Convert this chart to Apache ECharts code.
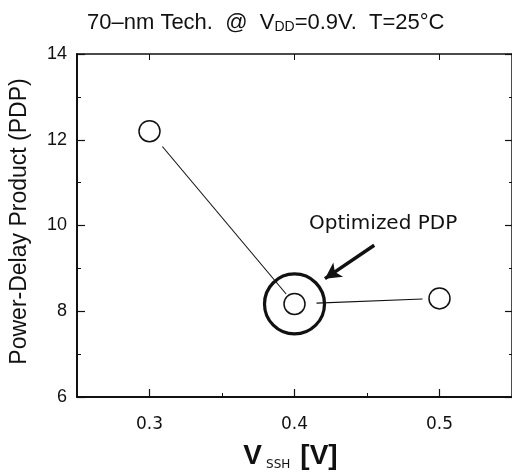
<!DOCTYPE html>
<html>
<head>
<meta charset="utf-8">
<script src="https://cdn.jsdelivr.net/npm/echarts@6/dist/echarts.min.js"></script>
<style>
  html, body { margin: 0; padding: 0; background: #fff; }
  #chart { width: 512px; height: 476px; }
</style>
</head>
<body>
<div id="chart"></div>
<script>
// Supply voltage sweep and measured power-delay product
const vssh = [0.3, 0.4, 0.5];
const pdp = [12.2, 8.17, 8.3];

// Axis ticks
const xMajor = [0.3, 0.4, 0.5];
const xMinor = [0.35, 0.45];
const yMin = 6, yMax = 14, yStep = 2;

// Gap (px) left between each connecting segment and the markers it joins
const segGaps = [[20, 13], [22, 17]];

const segments = vssh.slice(0, -1).map((x, i) => [x, pdp[i], vssh[i + 1], pdp[i + 1]]);

// Lowest PDP gets the highlight ring
const best = pdp.indexOf(Math.min(...pdp));
const bestPoint = [[vssh[best], pdp[best]]];

const chart = echarts.init(document.getElementById('chart'), null, { renderer: 'canvas' });

const tickFont = 'DejaVu Sans';
const black = '#111';

chart.setOption({
  animation: false,
  backgroundColor: '#fff',
  title: {
    text: '70\u2013nm Tech.  @  V{sub|DD}=0.9V.  T=25\u00B0C',
    left: 82,
    top: 7,
    textStyle: {
      fontFamily: 'Liberation Sans',
      fontWeight: 'normal',
      fontSize: 22,
      color: black,
      rich: {
        sub: { fontSize: 14, fontFamily: 'Liberation Sans', color: black, padding: [8, 0, 0, 0] }
      }
    }
  },
  grid: { left: 77, top: 54, width: 437, height: 346 },
  xAxis: [
    {
      type: 'value', min: 0.25, max: 0.55, position: 'bottom',
      axisLine: { show: true, lineStyle: { color: black, width: 2 } },
      axisTick: { show: true, inside: true, length: 8, customValues: xMajor, lineStyle: { color: black, width: 1.2 } },
      axisLabel: { customValues: xMajor, formatter: v => v.toFixed(1), margin: 19, fontSize: 17, color: black, fontFamily: tickFont },
      splitLine: { show: false },
      name: '{v|V}{s|SSH}{v|[V]}',
      nameLocation: 'middle',
      nameGap: 44,
      nameTextStyle: {
        padding: [0, 8, 0, 0],
        rich: {
          v: { fontSize: 28, fontWeight: 'bold', fontFamily: 'Liberation Sans', color: black },
          s: { fontSize: 12, fontFamily: 'DejaVu Sans', color: black, padding: [18, 10, 0, 4] }
        }
      }
    },
    {
      type: 'value', min: 0.25, max: 0.55, position: 'bottom',
      axisLine: { show: false },
      axisTick: { show: true, inside: true, length: 4, customValues: xMinor, lineStyle: { color: black, width: 1 } },
      axisLabel: { show: false },
      splitLine: { show: false }
    },
    {
      type: 'value', min: 0.25, max: 0.55, position: 'top',
      axisLine: { show: true, lineStyle: { color: black, width: 1.5 } },
      axisTick: { show: true, inside: true, length: 6, customValues: xMajor, lineStyle: { color: black, width: 1 } },
      axisLabel: { show: false },
      splitLine: { show: false }
    }
  ],
  yAxis: [
    {
      type: 'value', min: yMin, max: yMax, interval: yStep, position: 'left',
      axisLine: { show: true, lineStyle: { color: black, width: 2 } },
      axisTick: { show: true, inside: true, length: 8, lineStyle: { color: black, width: 1.2 } },
      minorTick: { show: true, splitNumber: 2, length: 4, lineStyle: { color: black, width: 1 } },
      axisLabel: { margin: 10, fontSize: 18, color: black, fontFamily: 'Liberation Sans' },
      splitLine: { show: false },
      name: 'Power-Delay Product (PDP)',
      nameLocation: 'middle',
      nameGap: 46,
      nameTextStyle: { fontSize: 23, fontFamily: 'Liberation Sans', color: black, padding: [0, 0, 0, 8] }
    },
    {
      type: 'value', min: yMin, max: yMax, interval: yStep, position: 'right',
      axisLine: { show: true, lineStyle: { color: black, width: 1.5 } },
      axisTick: { show: true, inside: true, length: 7, lineStyle: { color: black, width: 1.2 } },
      minorTick: { show: true, splitNumber: 2, length: 3, lineStyle: { color: black, width: 1 } },
      axisLabel: { show: false },
      splitLine: { show: false }
    }
  ],
  series: [
    {
      // connecting segments, trimmed short of the markers
      type: 'custom',
      xAxisIndex: 0, yAxisIndex: 0,
      data: segments,
      encode: { x: [0, 2], y: [1, 3] },
      renderItem: (params, api) => {
        const a = api.coord([api.value(0), api.value(1)]);
        const b = api.coord([api.value(2), api.value(3)]);
        const dx = b[0] - a[0], dy = b[1] - a[1];
        const len = Math.hypot(dx, dy);
        const ux = dx / len, uy = dy / len;
        const g = segGaps[params.dataIndex];
        return {
          type: 'line',
          shape: { x1: a[0] + ux * g[0], y1: a[1] + uy * g[0], x2: b[0] - ux * g[1], y2: b[1] - uy * g[1] },
          style: { stroke: black, lineWidth: 1.1 }
        };
      }
    },
    {
      type: 'scatter',
      xAxisIndex: 0, yAxisIndex: 0,
      data: vssh.map((x, i) => [x, pdp[i]]),
      symbol: 'circle',
      symbolSize: 21,
      itemStyle: { color: 'rgba(0,0,0,0)', borderColor: black, borderWidth: 1.5, opacity: 1 }
    },
    {
      type: 'scatter',
      xAxisIndex: 0, yAxisIndex: 0,
      data: bestPoint,
      symbol: 'circle',
      symbolSize: 60,
      itemStyle: { color: 'rgba(0,0,0,0)', borderColor: black, borderWidth: 3.2, opacity: 1 },
      markLine: {
        silent: true,
        symbol: ['none', 'arrow'],
        symbolSize: [13, 16],
        label: { show: false },
        lineStyle: { color: black, width: 3.5, type: 'solid' },
        data: [[{ coord: [0.455, 9.54] }, { coord: [0.421, 8.76] }]]
      }
    }
  ],
  graphic: [
    {
      type: 'text',
      left: 309,
      top: 214,
      style: { text: 'Optimized PDP', fontSize: 20, fontFamily: tickFont, fill: black }
    }
  ]
});
</script>
</body>
</html>
